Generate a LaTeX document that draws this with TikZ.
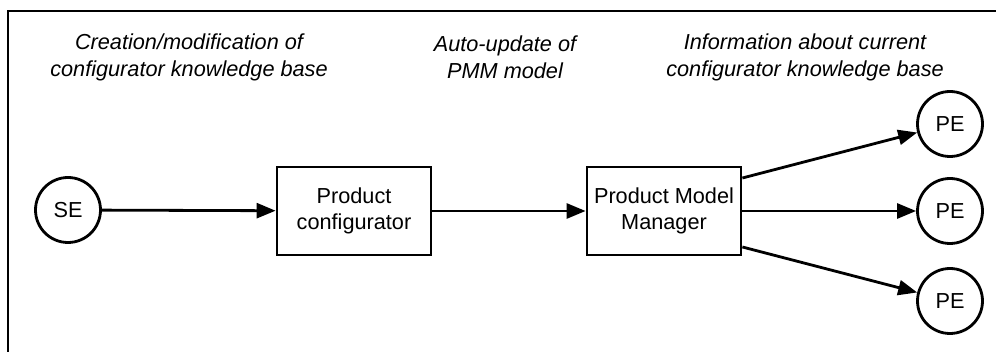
\documentclass[tikz,border=0pt]{standalone}
\usepackage{fontspec}
\setmainfont{Liberation Sans}
\usetikzlibrary{arrows.meta}
\begin{document}
\begin{tikzpicture}[x=1pt,y=-1pt,
  every node/.style={font=\fontsize{21.7}{26.5}\selectfont},
  circ/.style={draw,circle,line width=2.8pt,minimum size=65pt,inner sep=0pt},
  boxn/.style={draw,rectangle,line width=2.8pt,minimum width=154pt,minimum height=88pt,align=center,inner sep=0pt},
  lbl/.style={align=center,font=\fontsize{21.7}{27}\selectfont\itshape},
  conn/.style={line width=2.8pt,-{Triangle[length=19pt,width=15pt]}}]
\useasboundingbox (0,0) rectangle (996,352);
\clip (0,0) rectangle (996,352);
\draw[line width=2.6pt] (8,11) rectangle (1020,380);
\node[lbl] (t1) at (189,57) {Creation/modification of\\configurator knowledge base};
\node[lbl] (t2) at (505,57) {Auto-update of\\PMM model};
\node[lbl] (t3) at (805,57) {Information about current\\configurator knowledge base};
\node[circ] (se) at (68,210) {SE};
\node[boxn] (pc) at (354,211) {Product\\configurator};
\node[boxn] (pmm) at (664,211) {Product Model\\Manager};
\node[circ] (pe1) at (950,124) {PE};
\node[circ] (pe2) at (950,211) {PE};
\node[circ] (pe3) at (950,301) {PE};
\draw[conn] (se) -- (pc);
\draw[conn] (pc) -- (pmm);
\draw[conn] ([yshift=33pt]pmm.east) -- (pe1);
\draw[conn] (pmm) -- (pe2);
\draw[conn] ([yshift=-36pt]pmm.east) -- (pe3);
\end{tikzpicture}
\end{document}
